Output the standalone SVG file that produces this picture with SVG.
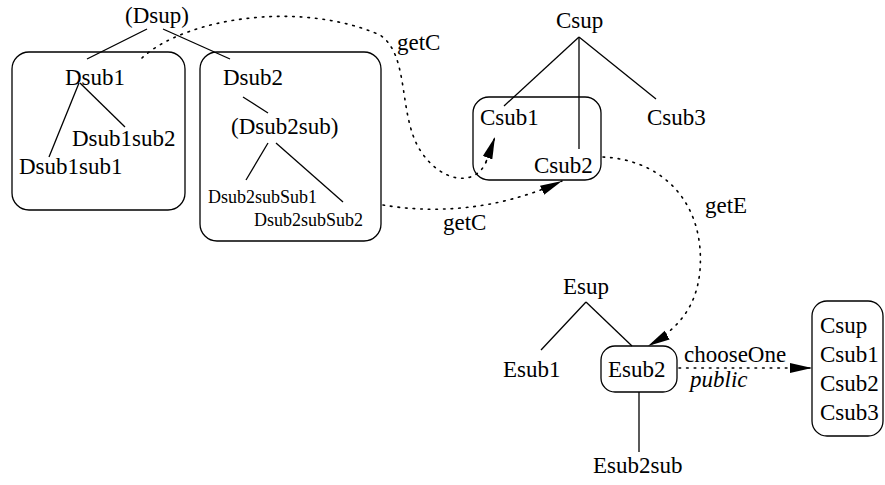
<svg xmlns="http://www.w3.org/2000/svg" width="885" height="485" viewBox="0 0 885 485">
  <style>
    text { font-family: "Liberation Serif", "Times New Roman", serif; font-size: 23px; fill: #000; }
    text.small { font-size: 18px; }
    text.it { font-style: italic; }
    .box { fill: none; stroke: #000; stroke-width: 1.3; }
    .edge { fill: none; stroke: #000; stroke-width: 1.3; }
    .call { fill: none; stroke: #000; stroke-width: 1.6; stroke-dasharray: 1.6 6; stroke-linecap: round; }
  </style>
  <defs>
    <marker id="head" markerUnits="userSpaceOnUse" markerWidth="24" markerHeight="12" refX="22" refY="5" orient="auto">
      <path d="M0,0 L22,5 L0,10 Z" fill="#000"/>
    </marker>
  </defs>
  <rect width="885" height="485" fill="#fff"/>

  <!-- D hierarchy -->
  <g id="dsup"><text x="125" y="23">(Dsup)</text></g>
  <g id="dsub1">
    <rect class="box" x="12" y="52" width="173" height="158" rx="17"/>
    <text x="65" y="85">Dsub1</text>
  </g>
  <g id="dsub1sub2"><text x="72" y="146">Dsub1sub2</text></g>
  <g id="dsub1sub1"><text x="19" y="174">Dsub1sub1</text></g>
  <g id="dsub2">
    <rect class="box" x="200" y="52" width="181" height="189" rx="17"/>
    <text x="223" y="85">Dsub2</text>
  </g>
  <g id="dsub2sub"><text x="231" y="134">(Dsub2sub)</text></g>
  <g id="dsub2subsub1"><text class="small" x="208" y="203">Dsub2subSub1</text></g>
  <g id="dsub2subsub2"><text class="small" x="254" y="226">Dsub2subSub2</text></g>

  <!-- C hierarchy -->
  <g id="csup"><text x="556" y="28">Csup</text></g>
  <g id="csub-group"><rect class="box" x="473" y="97" width="128" height="83" rx="16"/></g>
  <g id="csub1"><text x="480" y="125">Csub1</text></g>
  <g id="csub2"><text x="534" y="173">Csub2</text></g>
  <g id="csub3"><text x="647" y="125">Csub3</text></g>

  <!-- E hierarchy -->
  <g id="esup"><text x="563" y="294">Esup</text></g>
  <g id="esub1"><text x="503" y="377">Esub1</text></g>
  <g id="esub2">
    <rect class="box" x="601" y="346" width="76" height="46" rx="14"/>
    <text x="608" y="377">Esub2</text>
  </g>
  <g id="esub2sub"><text x="593" y="473">Esub2sub</text></g>

  <!-- choice list -->
  <g id="choices">
    <rect class="box" x="812" y="301" width="71" height="135" rx="15"/>
    <text x="820" y="333">Csup</text>
    <text x="820" y="362">Csub1</text>
    <text x="820" y="391">Csub2</text>
    <text x="820" y="420">Csub3</text>
  </g>

  <g id="connectors">
    <!-- tree edges -->
    <line class="edge" x1="147" y1="29" x2="87" y2="59"/>
    <line class="edge" x1="163" y1="29" x2="230" y2="59"/>
    <line class="edge" x1="79" y1="83" x2="49" y2="157"/>
    <line class="edge" x1="80" y1="83" x2="125" y2="127"/>
    <line class="edge" x1="243" y1="97" x2="268" y2="113"/>
    <line class="edge" x1="268" y1="143" x2="246" y2="180"/>
    <line class="edge" x1="276" y1="143" x2="343" y2="202"/>
    <line class="edge" x1="579" y1="37" x2="504" y2="106"/>
    <line class="edge" x1="579" y1="37" x2="579" y2="149"/>
    <line class="edge" x1="579" y1="37" x2="656" y2="99"/>
    <line class="edge" x1="586" y1="302" x2="541" y2="350"/>
    <line class="edge" x1="586" y1="302" x2="632" y2="346"/>
    <line class="edge" x1="639" y1="392" x2="639" y2="452"/>

    <!-- calls -->
    <path class="call" d="M142,58 C185,18 300,0 380,35 C410,55 398,115 420,150 C440,182 475,188 486,162" />
    <path class="call" d="M486,162 L495,137" marker-end="url(#head)"/>
    <text x="397" y="50">getC</text>

    <path class="call" d="M383,205 C430,213 495,212 562,181" marker-end="url(#head)"/>
    <text x="443" y="230">getC</text>

    <path class="call" d="M603,157 C665,160 705,205 700,270 C697,305 680,328 648,346" marker-end="url(#head)"/>
    <text x="705" y="213">getE</text>

    <path class="call" d="M679,368 L812,368" marker-end="url(#head)"/>
    <text x="684" y="362">chooseOne</text>
    <text class="it" x="690" y="387">public</text>
  </g>
</svg>
